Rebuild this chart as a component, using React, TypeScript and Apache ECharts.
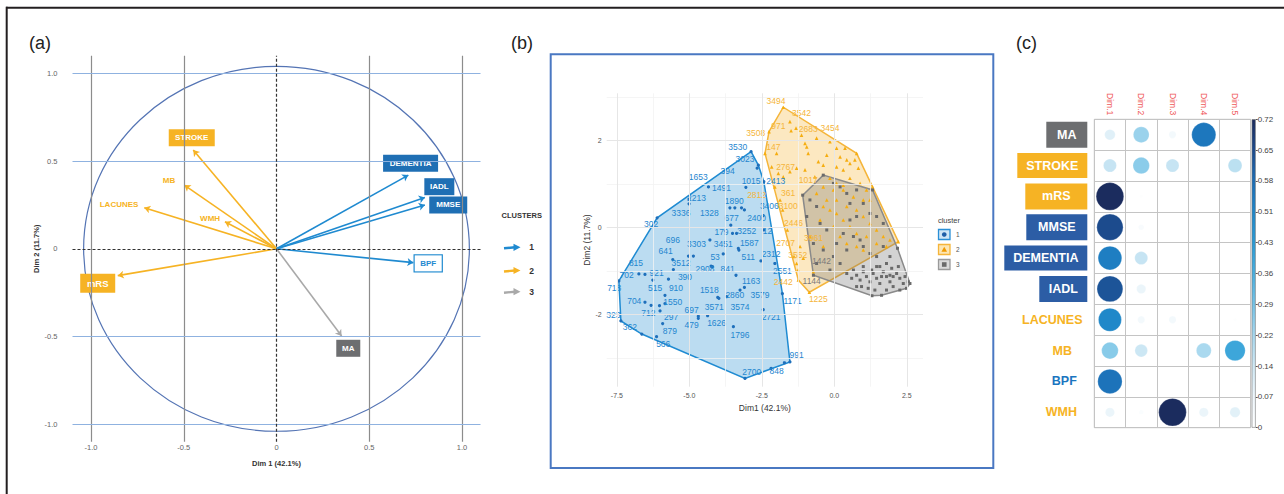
import React, { useEffect, useRef } from "react";
import * as echarts from "echarts";

const FONT = '"Liberation Sans", Arial, Helvetica, sans-serif';
const ORANGE = "#f6b324";
const BLUE = "#1f8ad0";
const BLUE_BOX = "#1f6fb4";
const GREY_BOX = "#6d6e70";
const GREY_ARROW = "#a9a9a9";
const C_BLUE_BOX = "#2c5da5";

// ---------- Panel (a): PCA variable plot ----------
const pcaVars = ["STROKE", "MB", "LACUNES", "WMH", "mRS", "DEMENTIA", "IADL", "MMSE", "BPF", "MA"];
const pcaDim1 = [-0.449, -0.497, -0.713, -0.278, -0.856, 0.711, 0.8, 0.8, 0.738, 0.351];
const pcaDim2 = [0.563, 0.363, 0.234, 0.154, -0.153, 0.42, 0.293, 0.25, -0.079, -0.497];
const pcaGroup = [2, 2, 2, 2, 2, 1, 1, 1, 1, 3];
const pcaLabelX = [-0.457, -0.58, -0.849, -0.358, -0.964, 0.723, 0.878, 0.926, 0.818, 0.387];
const pcaLabelY = [0.633, 0.392, 0.25, 0.174, -0.197, 0.487, 0.354, 0.25, -0.083, -0.567];
const pcaTicks = [-1, -0.5, 0, 0.5, 1];
const circleRadius = 1.04;

// ---------- Panel (b): cluster plot ----------
const bTicksX = [-7.5, -5, -2.5, 0, 2.5];
const bMinorX = [-6.25, -3.75, -1.25, 1.25];
const bTicksY = [-2, 0, 2];
const bMinorY = [-3, -1, 1, 3];

const c1Dots = [
  [-2.87, 1.74], [-2.62, 1.43], [-2.66, 1.36], [-4.34, 0.93], [-3.05, 0.92], [-2.43, 1.05], [-5.01, 0.65],
  [-5.01, 0.54], [-3.6, 0.45], [-3.43, 0.45], [-3.2, 0.45], [-3.1, 0.4], [-6.11, 0.22], [-3.57, 0.05],
  [-2.45, 0.27], [-3.51, -0.14], [-3.37, -0.14], [-2.43, -0.06], [-4.29, -0.29], [-3.31, -0.48],
  [-3.29, -0.52], [-5.57, -0.74], [-5.55, -0.97], [-5.03, -0.66], [-4.86, -0.66], [-3.83, -0.61],
  [-4.25, -0.89], [-4.2, -0.9], [-3.39, -1.1], [-2.53, -0.77], [-2.05, -0.83], [-6.74, -1.07],
  [-6.53, -1.08], [-6.26, -1.21], [-5.72, -1.19], [-3.1, -1.38], [-3.25, -1.44], [-7.43, -1.23],
  [-5.84, -1.56], [-4.02, -1.61], [-3.98, -1.63], [-3.71, -1.59], [-1.79, -1.52], [-6.53, -1.72],
  [-6.32, -1.79], [-6.03, -1.8], [-6.01, -1.92], [-5.92, -2.21], [-4.69, -2.04], [-4.69, -2.09],
  [-4.37, -2.03], [-3.48, -2.28], [-2.45, -1.89], [-7.36, -2.15], [-6.64, -2.45], [-6.13, -2.51],
  [-1.53, -3.09], [-1.72, -3.11], [-3.08, -3.47], [-2.18, -3.24], [-5.84, -1.75],
];
const c1Labels: [number, number, string][] = [
  [-3.33, 1.85, "3530"], [-3.08, 1.56, "3023"], [-3.68, 1.3, "394"], [-4.69, 1.16, "1653"],
  [-3.89, 0.91, "1491"], [-2.87, 1.07, "1015"], [-2.02, 1.07, "2413"], [-4.75, 0.68, "2213"],
  [-3.45, 0.61, "1890"], [-5.29, 0.34, "3336"], [-4.31, 0.34, "1328"], [-2.24, 0.49, "3406"],
  [-3.54, 0.22, "677"], [-2.68, 0.22, "2400"], [-6.32, 0.08, "302"], [-3.89, -0.1, "179"],
  [-3.02, -0.08, "3252"], [-2.3, -0.08, "12"], [-5.57, -0.28, "696"], [-4.75, -0.39, "3303"],
  [-3.83, -0.39, "3451"], [-2.93, -0.35, "1587"], [-5.82, -0.54, "641"], [-4.11, -0.67, "53"],
  [-2.97, -0.67, "511"], [-2.18, -0.62, "2312"], [-6.84, -0.81, "815"], [-5.29, -0.81, "3512"],
  [-4.46, -0.96, "2908"], [-3.68, -0.96, "841"], [-1.79, -1.0, "2551"], [-7.16, -1.1, "702"],
  [-6.13, -1.04, "921"], [-5.15, -1.13, "390"], [-2.87, -1.23, "1163"], [-7.59, -1.4, "718"],
  [-6.18, -1.39, "515"], [-5.46, -1.4, "910"], [-4.31, -1.43, "1518"], [-3.43, -1.56, "2860"],
  [-2.56, -1.56, "3579"], [-1.44, -1.69, "1171"], [-6.9, -1.69, "704"], [-5.57, -1.71, "1550"],
  [-4.92, -1.89, "697"], [-4.14, -1.84, "3571"], [-3.25, -1.82, "3574"], [-6.41, -1.96, "712"],
  [-5.63, -2.05, "297"], [-2.18, -2.05, "2721"], [-7.62, -2.02, "323"], [-4.06, -2.19, "1626"],
  [-4.92, -2.25, "479"], [-7.05, -2.3, "362"], [-5.67, -2.38, "879"], [-3.25, -2.48, "1796"],
  [-5.9, -2.67, "566"], [-1.3, -2.93, "991"], [-2.85, -3.32, "2700"], [-1.99, -3.3, "848"],
];

const c2Dots = [
  [-1.76, 2.76], [-1.53, 2.43], [-1.32, 2.28], [-1.13, 2.12], [-1.01, 1.93], [-0.95, 1.85], [-1.49, 2.22],
  [-0.61, 2.05], [-0.15, 1.97], [-0.9, 1.7], [-0.26, 1.66], [0.2, 1.62], [0.43, 1.55], [0.54, 1.47],
  [-0.55, 1.51], [-0.38, 1.43], [0.08, 1.39], [0.31, 1.32], [0.77, 1.7], [0.71, 1.55], [0.83, 1.36],
  [0.08, 1.82], [0.37, 1.82], [-2.25, 2.2], [-2.39, 1.7], [-1.99, 1.7], [-2.16, 1.39], [-1.93, 1.24],
  [-1.76, 1.16], [-1.53, 1.28], [-1.3, 1.36], [-1.01, 1.32], [-0.67, 1.16], [-0.15, 1.13], [0.08, 1.01],
  [0.31, 0.97], [0.54, 1.13], [0.89, 1.01], [1.11, 0.86], [1.23, 0.63], [1.32, 0.93], [1.0, 0.63],
  [0.66, 0.7], [0.31, 0.86], [-0.03, 0.86], [-0.38, 0.93], [-0.61, 0.78], [-0.26, 0.63], [0.08, 0.63],
  [0.43, 0.48], [0.77, 0.4], [1.0, 0.25], [1.23, 0.09], [1.46, -0.06], [1.69, -0.21], [1.92, -0.29],
  [2.21, -0.33], [1.8, -0.44], [1.46, -0.37], [1.11, -0.21], [0.77, -0.14], [0.54, 0.02], [0.31, 0.17],
  [0.08, 0.32], [-0.15, 0.4], [-0.38, 0.48], [-0.49, 0.17], [-0.03, 0.02], [0.2, -0.21], [0.43, -0.37],
  [0.77, -0.44], [1.0, -0.52], [-0.38, -0.44], [-0.84, -0.21], [-1.18, -0.44], [-1.3, -0.83],
  [-1.39, -0.67], [-1.62, -0.06], [-1.78, 0.4], [-1.87, 0.63], [-2.05, 0.93], [-1.25, -0.98],
  [-1.07, -0.71], [-0.72, -1.02], [-0.86, -1.49], [-1.24, -1.21],
];
const c2Labels: [number, number, string][] = [
  [-2.01, 2.91, "3494"], [-1.13, 2.62, "3542"], [-1.93, 2.33, "971"], [-0.9, 2.26, "2683"],
  [-0.15, 2.28, "3454"], [-2.71, 2.16, "3508"], [-2.1, 1.84, "147"], [-1.68, 1.38, "2767"],
  [-0.9, 1.09, "1017"], [-2.68, 0.74, "2812"], [-1.59, 0.8, "361"], [-1.59, 0.48, "3100"],
  [-1.41, 0.11, "2446"], [-1.68, -0.35, "2707"], [-0.72, -0.25, "3961"], [-1.26, -0.64, "3552"],
  [-1.76, -1.26, "2442"], [-0.55, -1.65, "1225"],
];

const c3Dots = [
  [-0.38, 1.2], [-1.09, 0.74], [-0.72, -1.1], [1.3, -1.57], [1.63, -1.56], [2.61, -1.29], [2.18, -0.48],
  [1.32, 0.86], [-0.84, 0.63], [-0.61, 0.48], [-0.95, 0.25], [-0.49, 0.09], [-0.26, -0.06], [-0.72, -0.37],
  [-0.38, -0.52], [-0.03, -0.67], [-0.61, -0.83], [-0.15, -0.98], [0.2, -0.83], [0.43, -0.52],
  [0.08, -0.37], [0.31, -0.14], [0.66, -0.21], [0.89, -0.29], [1.0, -0.44], [1.23, -0.6], [1.46, -0.67],
  [1.69, -0.44], [1.92, -0.67], [1.8, -0.83], [1.57, -0.9], [0.54, 0.55], [0.77, 0.86], [0.2, 0.93],
  [0.43, 0.78], [-0.03, 1.01], [1.0, 0.55], [1.23, 0.32], [1.46, 0.25], [1.69, 0.09], [0.77, 0.25],
  [0.54, 0.17], [0.66, -0.98], [0.77, -1.1], [0.89, -1.21], [1.0, -1.02], [1.11, -1.13], [1.23, -1.25],
  [1.34, -1.06], [1.46, -1.17], [1.57, -1.29], [1.69, -1.02], [1.8, -1.13], [1.92, -1.25], [2.03, -1.36],
  [2.15, -1.06], [2.26, -1.17], [2.38, -1.29], [2.49, -1.4], [1.98, -0.94], [2.21, -0.9], [2.44, -1.13],
  [2.55, -1.25], [0.94, -1.36], [1.17, -1.4], [1.4, -1.44], [0.77, -1.36], [1.0, -0.9], [1.46, -0.9],
  [1.8, -1.44], [2.26, -1.44], [1.92, -1.1], [1.63, -1.13], [1.29, -0.98], [2.03, -1.13], [0.6, -1.17],
  [0.43, -1.06],
];
const c3Labels: [number, number, string][] = [
  [-0.44, -0.77, "1442"], [-0.78, -1.23, "1144"],
];

// ---------- Panel (c): contributions (cos2) ----------
const corrDims = ["Dim.1", "Dim.2", "Dim.3", "Dim.4", "Dim.5"];
const corrRows = ["MA", "STROKE", "mRS", "MMSE", "DEMENTIA", "IADL", "LACUNES", "MB", "BPF", "WMH"];
const corrMA = [0.105, 0.235, 0.05, 0.55, 0.003];
const corrSTROKE = [0.16, 0.256, 0.16, 0.003, 0.18];
const corrMRS = [0.72, 0.01, 0, 0, 0];
const corrMMSE = [0.65, 0.03, 0, 0, 0];
const corrDEMENTIA = [0.53, 0.16, 0, 0, 0];
const corrIADL = [0.63, 0.08, 0, 0, 0];
const corrLACUNES = [0.5, 0.05, 0.05, 0, 0.01];
const corrMB = [0.26, 0.15, 0, 0.21, 0.39];
const corrBPF = [0.56, 0, 0, 0, 0.005];
const corrWMH = [0.08, 0.02, 0.72, 0.08, 0.1];
const corrValues = [corrMA, corrSTROKE, corrMRS, corrMMSE, corrDEMENTIA, corrIADL, corrLACUNES, corrMB, corrBPF, corrWMH];
const cosMax = 0.7234;
const cosInterval = 0.07234;
const corrColors = [
  "#ffffff", "#eef6fb", "#cfe8f4", "#a6d7ee", "#74c2e6", "#49aede",
  "#2a9ad4", "#1f86c8", "#1c6db5", "#1c4a8c", "#1b2a5c",
];

function convexHull(pts: number[][]) {
  const p = pts.map((q) => [q[0], q[1]]).sort((a, b) => a[0] - b[0] || a[1] - b[1]);
  const cross = (o: number[], a: number[], b: number[]) =>
    (a[0] - o[0]) * (b[1] - o[1]) - (a[1] - o[1]) * (b[0] - o[0]);
  const lower: number[][] = [];
  for (const q of p) {
    while (lower.length >= 2 && cross(lower[lower.length - 2], lower[lower.length - 1], q) <= 0) lower.pop();
    lower.push(q);
  }
  const upper: number[][] = [];
  for (let i = p.length - 1; i >= 0; i--) {
    const q = p[i];
    while (upper.length >= 2 && cross(upper[upper.length - 2], upper[upper.length - 1], q) <= 0) upper.pop();
    upper.push(q);
  }
  upper.pop();
  lower.pop();
  return lower.concat(upper);
}

function hullSeries(pts: number[][], fill: string, stroke: string) {
  const hull = convexHull(pts);
  return {
    type: "custom",
    xAxisIndex: 1,
    yAxisIndex: 1,
    z: 1,
    silent: true,
    data: hull,
    renderItem: (params: any, api: any) => {
      if (params.dataIndex !== 0) return { type: "group", children: [] };
      return {
        type: "polygon",
        shape: { points: hull.map((h) => api.coord(h)) },
        style: { fill, stroke, lineWidth: 1.5 },
      };
    },
  };
}

function aLabel(name: string) {
  const box = (bg: string, w: number, h: number, fs: number) => ({
    show: true, position: "inside", color: "#fff", backgroundColor: bg, fontWeight: "bold", opacity: 1,
    fontSize: fs, width: w, height: h, lineHeight: h, align: "center", verticalAlign: "middle", fontFamily: FONT,
  });
  switch (name) {
    case "STROKE": return box(ORANGE, 46, 17, 8);
    case "mRS": return box(ORANGE, 35, 19, 9.5);
    case "DEMENTIA": return box(BLUE_BOX, 55, 17, 8);
    case "IADL": return box(BLUE_BOX, 30, 17, 8);
    case "MMSE": return box(BLUE_BOX, 38, 17, 8);
    case "MA": return box(GREY_BOX, 24, 17, 8);
    case "BPF":
      return { ...box("#ffffff", 27, 16, 8), color: BLUE, borderColor: BLUE, borderWidth: 1.2 };
    default:
      return { show: true, position: "inside", color: ORANGE, fontWeight: "bold", fontSize: 8, fontFamily: FONT, opacity: 1 };
  }
}

const groupColor: Record<number, string> = { 1: BLUE, 2: ORANGE, 3: GREY_ARROW };

function buildOption() {
  const corrData: any[] = [];
  corrRows.forEach((r, i) => corrDims.forEach((d, j) => corrData.push([d, r, corrValues[i][j]])));

  const richStyle = (bg: string | null, color: string, w: number, h: number) => ({
    backgroundColor: bg || "transparent", color, width: w, height: h, lineHeight: h, align: "center",
    verticalAlign: "middle", fontWeight: "bold", fontSize: 12.5, fontFamily: FONT,
  });

  const lineNone = { symbol: ["none", "none"], silent: true, label: { show: false }, animation: false };

  const series: any[] = [
    // 0: grid lines panel (a)
    {
      type: "scatter", xAxisIndex: 0, yAxisIndex: 0, data: [], z: 0, silent: true,
      markLine: {
        ...lineNone,
        data: [
          ...pcaTicks.filter((v) => v !== 0).map((v) => ({ xAxis: v, lineStyle: { color: "#8c8c8c", width: 1.2, type: "solid" } })),
          ...pcaTicks.filter((v) => v !== 0).map((v) => ({ yAxis: v, lineStyle: { color: "#8fb2e0", width: 1, type: "solid" } })),
          { xAxis: 0, lineStyle: { color: "#333", width: 1.2, type: [3, 2] } },
          { yAxis: 0, lineStyle: { color: "#333", width: 1.2, type: [3, 2] } },
        ],
      },
    },
    // 1: correlation circle
    {
      type: "custom", xAxisIndex: 0, yAxisIndex: 0, data: [[0, 0]], z: 1, silent: true,
      renderItem: (params: any, api: any) => {
        const c = api.coord([0, 0]);
        const e = api.coord([circleRadius, circleRadius]);
        return {
          type: "ellipse",
          shape: { cx: c[0], cy: c[1], rx: e[0] - c[0], ry: c[1] - e[1] },
          style: { fill: "none", stroke: "#5474b4", lineWidth: 1.2 },
        };
      },
    },
    // 2: arrows
    {
      type: "lines", coordinateSystem: "cartesian2d", xAxisIndex: 0, yAxisIndex: 0, z: 3, silent: true,
      symbol: ["none", "arrow"], symbolSize: 6,
      lineStyle: { width: 1.6, opacity: 1 },
      data: pcaVars.map((n, i) => ({
        coords: [[0, 0], [pcaDim1[i], pcaDim2[i]]],
        lineStyle: { color: groupColor[pcaGroup[i]], width: 1.6, opacity: 1 },
      })),
    },
    // 3: variable labels
    {
      type: "scatter", xAxisIndex: 0, yAxisIndex: 0, symbolSize: 0, z: 4, silent: true,
      itemStyle: { opacity: 1 },
      data: pcaVars.map((n, i) => ({ name: n, value: [pcaLabelX[i], pcaLabelY[i]], label: { ...aLabel(n), formatter: "{b}" } })),
    },
    // 4: grid lines panel (b)
    {
      type: "scatter", xAxisIndex: 1, yAxisIndex: 1, data: [], z: 0, silent: true,
      markLine: {
        ...lineNone,
        data: [
          ...bMinorX.map((v) => ({ xAxis: v, lineStyle: { color: "#f3f3f3", width: 0.8, type: "solid" } })),
          ...bMinorY.map((v) => ({ yAxis: v, lineStyle: { color: "#f3f3f3", width: 0.8, type: "solid" } })),
          ...bTicksX.map((v) => ({ xAxis: v, lineStyle: { color: "#e6e6e6", width: 1, type: "solid" } })),
          ...bTicksY.map((v) => ({ yAxis: v, lineStyle: { color: "#e6e6e6", width: 1, type: "solid" } })),
        ],
      },
    },
    // 5-7: hulls
    hullSeries(c1Dots, "rgba(31,139,210,0.3)", "#1f8bd2"),
    hullSeries(c2Dots, "rgba(245,180,50,0.3)", "#f5b53a"),
    hullSeries(c3Dots, "rgba(110,110,110,0.3)", "#8a8a8a"),
    // 8-10: dots
    { type: "scatter", xAxisIndex: 1, yAxisIndex: 1, z: 2, silent: true, symbol: "circle", symbolSize: 3.2, itemStyle: { color: "#1e6fbb", opacity: 1 }, data: c1Dots },
    { type: "scatter", xAxisIndex: 1, yAxisIndex: 1, z: 2, silent: true, symbol: "triangle", symbolSize: 3.6, itemStyle: { color: "#f5ad10", opacity: 1 }, data: c2Dots },
    { type: "scatter", xAxisIndex: 1, yAxisIndex: 1, z: 2, silent: true, symbol: "rect", symbolSize: 3, itemStyle: { color: "#6a6a6a", opacity: 1 }, data: c3Dots },
    // 11-13: point labels
    ...[
      [c1Labels, "#1f86cf"],
      [c2Labels, "#f5b53a"],
      [c3Labels, "#7a7a7a"],
    ].map(([labs, col]: any) => ({
      type: "scatter", xAxisIndex: 1, yAxisIndex: 1, z: 3, silent: true, symbolSize: 0,
      itemStyle: { opacity: 1 },
      data: labs.map((l: any) => ({ name: l[2], value: [l[0], l[1]] })),
      label: { show: true, position: "inside", formatter: "{b}", color: col, fontSize: 8.5, fontFamily: FONT, opacity: 1 },
    })),
    // 14: corrplot circles
    {
      type: "custom", xAxisIndex: 2, yAxisIndex: 2, z: 3, silent: true,
      data: corrData,
      encode: { x: 0, y: 1 },
      renderItem: (params: any, api: any) => {
        const x = api.value(0);
        const y = api.value(1);
        const v = api.value(2);
        const c = api.coord([x, y]);
        const s = api.size([1, 1]);
        const r = 0.45 * Math.min(s[0], s[1]) * Math.sqrt(Math.max(v, 0) / cosMax);
        return {
          type: "circle",
          shape: { cx: c[0], cy: c[1], r },
          style: { fill: api.visual("color"), stroke: "rgba(255,255,255,0.5)", lineWidth: 0.5 },
        };
      },
    },
    // 15: colour bar
    {
      type: "bar", xAxisIndex: 3, yAxisIndex: 3, barWidth: "100%", silent: true,
      data: [cosMax],
      itemStyle: {
        color: new echarts.graphic.LinearGradient(0, 1, 0, 0,
          corrColors.map((c, i) => ({ offset: i / (corrColors.length - 1), color: c }))),
        borderColor: "#777", borderWidth: 0.6,
      },
    },
  ];

  const graphic: any[] = [
    { type: "line", shape: { x1: 6, y1: 7.7, x2: 1284, y2: 7.7 }, style: { stroke: "#231f20", lineWidth: 2 }, silent: true },
    { type: "line", shape: { x1: 6.7, y1: 6.7, x2: 6.7, y2: 494 }, style: { stroke: "#231f20", lineWidth: 2 }, silent: true },
    { type: "rect", shape: { x: 550.7, y: 54.3, width: 442.6, height: 413.7 }, style: { fill: "none", stroke: "#4a78c2", lineWidth: 2 }, silent: true },
    { type: "text", x: 29, y: 42.5, style: { text: "(a)", fontSize: 18, fill: "#222", fontFamily: FONT, verticalAlign: "middle" } },
    { type: "text", x: 511, y: 42.5, style: { text: "(b)", fontSize: 18, fill: "#222", fontFamily: FONT, verticalAlign: "middle" } },
    { type: "text", x: 1016, y: 42.5, style: { text: "(c)", fontSize: 18, fill: "#222", fontFamily: FONT, verticalAlign: "middle" } },
    { type: "text", x: 521.7, y: 215.7, style: { text: "CLUSTERS", fontSize: 7.5, fontWeight: "bold", fill: "#333", fontFamily: FONT, align: "center", verticalAlign: "middle" } },
  ];
  const clusterKeys = [
    { y: 247.3, col: BLUE, n: "1" },
    { y: 270.5, col: ORANGE, n: "2" },
    { y: 291.7, col: GREY_ARROW, n: "3" },
  ];
  clusterKeys.forEach((k) => {
    graphic.push({ type: "line", shape: { x1: 504, y1: k.y + 1, x2: 515, y2: k.y }, style: { stroke: k.col, lineWidth: 2.4 }, silent: true });
    graphic.push({ type: "polygon", shape: { points: [[513.5, k.y - 3.6], [520.5, k.y], [513.5, k.y + 3.6]] }, style: { fill: k.col }, silent: true });
    graphic.push({ type: "text", x: 531.7, y: k.y, style: { text: k.n, fontSize: 8.5, fontWeight: "bold", fill: "#333", fontFamily: FONT, align: "center", verticalAlign: "middle" } });
  });
  // cluster legend in panel (b)
  graphic.push({ type: "text", x: 949, y: 220.7, style: { text: "cluster", fontSize: 7.5, fill: "#444", fontFamily: FONT, align: "center", verticalAlign: "middle" } });
  const legKeys = [
    { y: 229.5, fill: "#cfe6f6", stroke: "#2a8fd6", n: "1" },
    { y: 244.5, fill: "#fde6b3", stroke: "#f5b53a", n: "2" },
    { y: 259.5, fill: "#dadada", stroke: "#9a9a9a", n: "3" },
  ];
  legKeys.forEach((k, i) => {
    graphic.push({ type: "rect", shape: { x: 938.5, y: k.y, width: 11.5, height: 10 }, style: { fill: k.fill, stroke: k.stroke, lineWidth: 1.3 }, silent: true });
    const cx = 944.25, cy = k.y + 5;
    if (i === 0) graphic.push({ type: "circle", shape: { cx, cy, r: 2.3 }, style: { fill: "#1f5fa8" }, silent: true });
    if (i === 1) graphic.push({ type: "polygon", shape: { points: [[cx, cy - 2.8], [cx + 2.8, cy + 2.2], [cx - 2.8, cy + 2.2]] }, style: { fill: "#f09a00" }, silent: true });
    if (i === 2) graphic.push({ type: "rect", shape: { x: cx - 2.3, y: cy - 2.3, width: 4.6, height: 4.6 }, style: { fill: "#6a6a6a" }, silent: true });
    graphic.push({ type: "text", x: 956, y: cy, style: { text: k.n, fontSize: 6.5, fill: "#555", fontFamily: FONT, verticalAlign: "middle" } });
  });

  const fmt1 = (v: number) => (v === 0 ? "0" : v.toFixed(1));

  return {
    animation: false,
    backgroundColor: "#ffffff",
    textStyle: { fontFamily: FONT },
    graphic,
    visualMap: [
      {
        type: "continuous", show: false, seriesIndex: 14, dimension: 2, min: 0, max: cosMax,
        inRange: { color: corrColors },
      },
    ],
    grid: [
      { left: 72.5, top: 55.8, width: 408, height: 386 },
      { left: 606.7, top: 93.3, width: 316.3, height: 293.4 },
      { left: 1094.3, top: 119.3, width: 156.4, height: 308.4, show: true, borderColor: "#c4c4c4", borderWidth: 1, backgroundColor: "transparent" },
      { left: 1251.7, top: 119.3, width: 4, height: 308.4 },
    ],
    xAxis: [
      {
        gridIndex: 0, type: "value", min: -1.1, max: 1.1,
        axisLine: { show: false }, axisTick: { show: false }, splitLine: { show: false },
        axisLabel: { customValues: pcaTicks, formatter: fmt1, fontSize: 7.5, color: "#666", margin: 2 },
        name: "Dim 1 (42.1%)", nameLocation: "middle", nameGap: 17.5,
        nameTextStyle: { fontWeight: "bold", fontSize: 7.5, color: "#333" },
      },
      {
        gridIndex: 1, type: "value", min: -7.85, max: 3.06,
        axisLine: { show: false }, splitLine: { show: false },
        axisTick: { show: true, customValues: bTicksX, length: 2, lineStyle: { color: "#666" } },
        axisLabel: { customValues: bTicksX, formatter: (v: number) => v.toFixed(1), fontSize: 7, color: "#555", margin: 5 },
        name: "Dim1 (42.1%)", nameLocation: "middle", nameGap: 16,
        nameTextStyle: { fontSize: 8.5, color: "#333" },
      },
      {
        gridIndex: 2, type: "category", data: corrDims, position: "top",
        axisLine: { show: false }, axisTick: { show: false },
        splitLine: { show: true, interval: 0, lineStyle: { color: "#c4c4c4", width: 1 } },
        axisLabel: { rotate: 90, color: "#ef5759", fontSize: 8.5, margin: 4, interval: 0 },
      },
      { gridIndex: 3, type: "category", data: ["bar"], show: false },
    ],
    yAxis: [
      {
        gridIndex: 0, type: "value", min: -1.1, max: 1.1,
        axisLine: { show: false }, axisTick: { show: false }, splitLine: { show: false },
        axisLabel: { customValues: pcaTicks, formatter: fmt1, fontSize: 7.5, color: "#666", margin: 15 },
        name: "Dim 2 (11.7%)", nameLocation: "middle", nameGap: 27, nameRotate: 90,
        nameTextStyle: { fontWeight: "bold", fontSize: 7.5, color: "#333" },
      },
      {
        gridIndex: 1, type: "value", min: -3.66, max: 3.08,
        axisLine: { show: false }, splitLine: { show: false },
        axisTick: { show: true, customValues: bTicksY, length: 2, lineStyle: { color: "#666" } },
        axisLabel: { customValues: bTicksY, formatter: (v: number) => String(v), fontSize: 7, color: "#555", margin: 5 },
        name: "Dim2 (11.7%)", nameLocation: "middle", nameGap: 15, nameRotate: 90,
        nameTextStyle: { fontSize: 8.5, color: "#333" },
      },
      {
        gridIndex: 2, type: "category", data: corrRows, inverse: true,
        axisLine: { show: false }, axisTick: { show: false },
        splitLine: { show: true, interval: 0, lineStyle: { color: "#c4c4c4", width: 1 } },
        axisLabel: {
          interval: 0, margin: 7,
          formatter: (v: string) => `{${v}|${v}}`,
          rich: {
            MA: richStyle(GREY_BOX, "#fff", 41, 26),
            STROKE: richStyle(ORANGE, "#fff", 70, 25),
            mRS: richStyle(ORANGE, "#fff", 62, 26),
            MMSE: richStyle(C_BLUE_BOX, "#fff", 61, 26),
            DEMENTIA: richStyle(C_BLUE_BOX, "#fff", 83, 25),
            IADL: richStyle(C_BLUE_BOX, "#fff", 48, 26),
            LACUNES: richStyle(null, ORANGE, 70, 20),
            MB: richStyle(null, ORANGE, 50, 20),
            BPF: richStyle(null, "#1a75c0", 46, 20),
            WMH: richStyle(null, ORANGE, 52, 20),
          },
        },
      },
      {
        gridIndex: 3, type: "value", min: 0, max: cosMax, interval: cosInterval, position: "right",
        axisLine: { show: false }, splitLine: { show: false },
        axisTick: { show: true, length: 2, lineStyle: { color: "#555" } },
        axisLabel: { fontSize: 8, color: "#444", margin: 2, formatter: (v: number) => (v === 0 ? "0" : v.toFixed(2)) },
      },
    ],
    series,
  };
}

export default function App() {
  const ref = useRef<HTMLDivElement>(null);
  useEffect(() => {
    const chart = echarts.init(ref.current!, undefined, { renderer: "svg" });
    chart.setOption(buildOption() as any);
    return () => chart.dispose();
  }, []);
  return (
    <div
      ref={ref}
      style={{ position: "fixed", left: 0, top: 0, width: 1284, height: 494, background: "#fff" }}
    />
  );
}
